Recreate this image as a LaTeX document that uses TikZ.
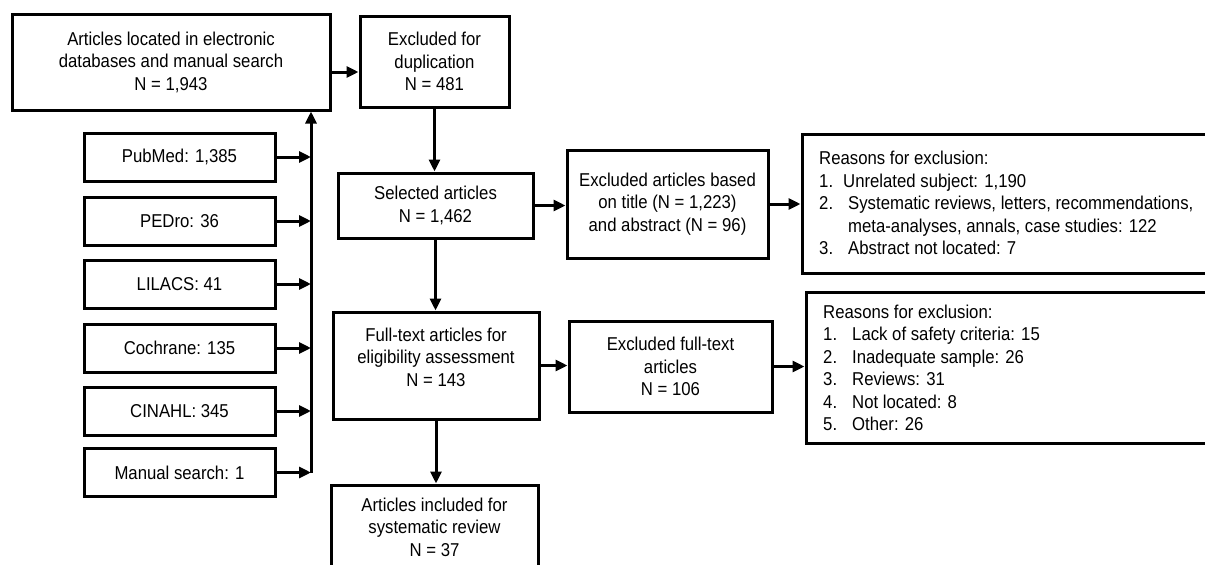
\documentclass[tikz,border=0pt]{standalone}
\usepackage{fontspec}
\setmainfont{Liberation Sans}[FakeStretch=0.9]
\usetikzlibrary{arrows.meta,calc}
\begin{document}
\begin{tikzpicture}[x=1pt,y=-1pt,
  box/.style={draw=black, line width=3pt, inner sep=0pt, align=center,
    font=\fontsize{18.6}{22.5}\selectfont},
  txt/.style={inner sep=0pt, font=\fontsize{18.6}{22.5}\selectfont},
  arr/.style={draw=black, line width=3pt, -{Triangle[length=12pt,width=11pt]}}]
\fill[white] (0,0) rectangle (1205,565);
\useasboundingbox (0,0) rectangle (1205,565);

% main column
\node[box, minimum width=318pt, minimum height=96pt] (A) at (171,62)
  {Articles located in electronic\\databases and manual search\\N = 1,943};
\node[box, minimum width=149pt, minimum height=91pt] (B) at (434.5,61.5)
  {Excluded for\\duplication\\N = 481};
\node[box, minimum width=195pt, minimum height=65pt] (C) at (435.5,205.5)
  {Selected articles\\N = 1,462};
\node[box, minimum width=201pt, minimum height=108pt] (D) at (667.5,204)
  {Excluded articles based\\on title (N = 1,223)\\and abstract (N = 96)};
\node[box, minimum width=413pt, minimum height=139pt] (E) at (1008.5,203.5) {};
\node[txt, anchor=west, align=left] (Et) at (819,203)
  {Reasons for exclusion:\\
   \makebox[24pt][l]{1.}Unrelated subject: 1,190\\
   \makebox[29pt][l]{2.}Systematic reviews, letters, recommendations,\\
   \hspace*{29pt}meta-analyses, annals, case studies: 122\\
   \makebox[29pt][l]{3.}Abstract not located: 7};
\node[box, minimum width=206pt, minimum height=107pt] (F) at (436,365.5) {};
\node[txt, align=center] (Ft) at (436,357)
  {Full-text articles for\\eligibility assessment\\N = 143};
\node[box, minimum width=203pt, minimum height=91pt] (G) at (670.5,366.5)
  {Excluded full-text\\articles\\N = 106};
\node[box, minimum width=409pt, minimum height=151pt] (I) at (1010.5,367.5) {};
\node[txt, anchor=west, align=left] (It) at (823,368)
  {Reasons for exclusion:\\
   \makebox[29pt][l]{1.}Lack of safety criteria: 15\\
   \makebox[29pt][l]{2.}Inadequate sample: 26\\
   \makebox[29pt][l]{3.}Reviews: 31\\
   \makebox[29pt][l]{4.}Not located: 8\\
   \makebox[29pt][l]{5.}Other: 26};
\node[box, minimum width=207pt, minimum height=90pt] (H) at (434.5,530) {};
\node[txt, align=center] (Ht) at (434.5,527)
  {Articles included for\\systematic review\\N = 37};

% sources
\node[box, minimum width=191pt, minimum height=48pt] (S1) at (179.5,157) {PubMed: 1,385};
\node[box, minimum width=191pt, minimum height=48pt] (S2) at (179.5,221) {PEDro: 36};
\node[box, minimum width=191pt, minimum height=48pt] (S3) at (179.5,284) {LILACS: 41};
\node[box, minimum width=191pt, minimum height=48pt] (S4) at (179.5,348) {Cochrane: 135};
\node[box, minimum width=191pt, minimum height=48pt] (S5) at (179.5,411) {CINAHL: 345};
\node[box, minimum width=191pt, minimum height=48pt] (S6) at (179.5,472.5) {Manual search: 1};

\coordinate (busb) at (311,473);
\draw[draw=black, line width=3pt] (busb) -- (busb |- S1.east);
\draw[arr] (busb |- S1.east) -- (busb |- A.south);
\foreach \s in {S1,S2,S3,S4,S5,S6}
  \draw[arr] (\s.east) -- (\s.east -| busb);

% connectors
\draw[arr] (A.east |- {(0,72)}) -- (B.west |- {(0,72)});
\draw[arr] (B.south) -- (B.south |- C.north);
\draw[arr] (C.east) -- (C.east -| D.west);
\draw[arr] (D.east) -- (D.east -| E.west);
\draw[arr] (C.south) -- (C.south |- F.north);
\draw[arr] (F.east) -- (F.east -| G.west);
\draw[arr] (G.east) -- (G.east -| I.west);
\draw[arr] (F.south) -- (F.south |- H.north);
\end{tikzpicture}
\end{document}
